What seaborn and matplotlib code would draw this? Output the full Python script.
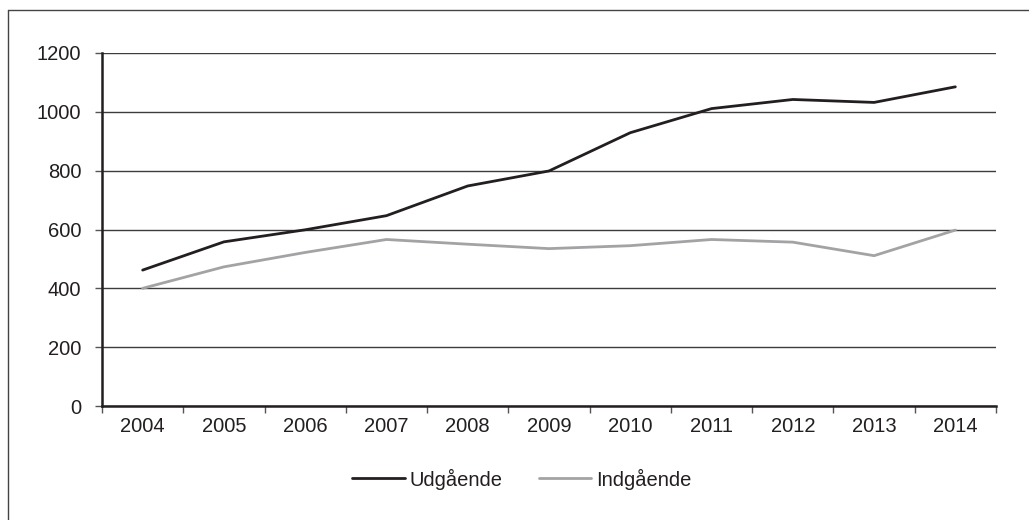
import matplotlib
matplotlib.use("Agg")
import matplotlib.pyplot as plt
import pandas as pd
import seaborn as sns
from matplotlib.lines import Line2D

years = ["2004", "2005", "2006", "2007", "2008", "2009", "2010", "2011", "2012", "2013", "2014"]
udgaaende = [462, 558, 599, 647, 748, 799, 929, 1011, 1042, 1032, 1085]
indgaaende = [400, 473, 522, 566, 550, 535, 545, 566, 557, 511, 598]
series_names = ["Udgående", "Indgående"]

df = pd.concat([
    pd.DataFrame({"pos": range(len(years)), "value": udgaaende, "serie": series_names[0]}),
    pd.DataFrame({"pos": range(len(years)), "value": indgaaende, "serie": series_names[1]}),
])

sns.set_style("white")
plt.rcParams["font.family"] = ["Liberation Sans", "DejaVu Sans"]

fig = plt.figure(figsize=(10.29, 5.2), dpi=100)
ax = fig.add_axes([102 / 1029, 1 - 406 / 520, (996 - 102) / 1029, (406 - 53) / 520])

sns.lineplot(data=df, x="pos", y="value", hue="serie",
             palette={"Udgående": "#231f20", "Indgående": "#a3a3a5"},
             linewidth=2.0, ax=ax, legend=False, zorder=3)

ax.set_xlim(-0.5, len(years) - 0.5)
ax.set_ylim(0, 1200)
ax.set_yticks(range(0, 1201, 200))
ax.yaxis.grid(True, color="#3c3c3c", linewidth=1.0)
ax.set_axisbelow(True)

# category boundaries as major ticks, labels at centres
ax.set_xticks([i - 0.5 for i in range(len(years) + 1)])
ax.set_xticklabels([])
ax.set_xticks(range(len(years)), minor=True)
ax.set_xticklabels(years, minor=True)
ax.tick_params(axis="x", which="major", direction="out", length=5, width=1, color="#555555", bottom=True)
ax.tick_params(axis="x", which="minor", length=0, pad=8, labelsize=14.5, labelcolor="#231f20")
ax.tick_params(axis="y", direction="out", length=5, width=1, color="#555555", left=True,
               pad=10, labelsize=14.5, labelcolor="#231f20")

for s in ["top", "right"]:
    ax.spines[s].set_visible(False)
for s in ["left", "bottom"]:
    ax.spines[s].set_color("#231f20")
    ax.spines[s].set_linewidth(1.8)

ax.set_xlabel("")
ax.set_ylabel("")

handles = [Line2D([], [], color="#231f20", linewidth=2.0),
           Line2D([], [], color="#a3a3a5", linewidth=2.0)]
fig.legend(handles, series_names, loc="center", bbox_to_anchor=(522 / 1029, 1 - 479 / 520),
           ncol=2, frameon=False, fontsize=14.5, handlelength=2.6, handletextpad=0.25,
           columnspacing=1.8, labelcolor="#231f20")

# outer chart frame (only top and left edges visible)
fig.add_artist(Line2D([8 / 1029, 1], [1 - 10 / 520, 1 - 10 / 520], color="#444444", linewidth=1.0,
                      transform=fig.transFigure))
fig.add_artist(Line2D([8 / 1029, 8 / 1029], [0, 1 - 10 / 520], color="#444444", linewidth=1.0,
                      transform=fig.transFigure))

fig.savefig("out.png", dpi=100)
